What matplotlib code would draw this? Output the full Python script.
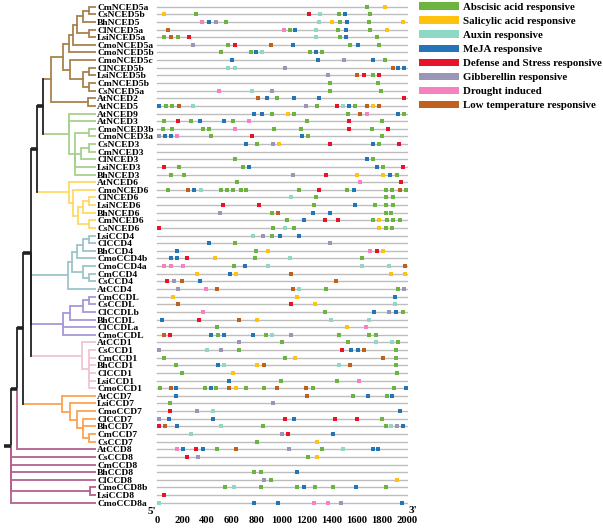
import matplotlib
matplotlib.use('Agg')
import matplotlib.pyplot as plt
import matplotlib.patches as mpatches

plt.rcParams['font.family'] = ['Liberation Serif', 'DejaVu Serif']
plt.rcParams['font.weight'] = 'bold'

genes = ['CmNCED5a', 'CsNCED5b', 'BhNCED5', 'ClNCED5a', 'LsiNCED5a', 'CmoNCED5a', 'CmoNCED5b',
         'CmoNCED5c', 'ClNCED5b', 'LsiNCED5b', 'CmNCED5b', 'CsNCED5a', 'AtNCED2', 'AtNCED5',
         'AtNCED9', 'AtNCED3', 'CmoNCED3b', 'CmoNCED3a', 'CsNCED3', 'CmNCED3', 'ClNCED3',
         'LsiNCED3', 'BhNCED3', 'AtNCED6', 'CmoNCED6', 'ClNCED6', 'LsiNCED6', 'BhNCED6',
         'CmNCED6', 'CsNCED6', 'LsiCCD4', 'ClCCD4', 'BhCCD4', 'CmoCCD4b', 'CmoCCD4a', 'CmCCD4',
         'CsCCD4', 'AtCCD4', 'CmCCDL', 'CsCCDL', 'ClCCDLb', 'BhCCDL', 'ClCCDLa', 'CmoCCDL',
         'AtCCD1', 'CsCCD1', 'CmCCD1', 'BhCCD1', 'ClCCD1', 'LsiCCD1', 'CmoCCD1', 'AtCCD7',
         'LsiCCD7', 'CmoCCD7', 'ClCCD7', 'BhCCD7', 'CmCCD7', 'CsCCD7', 'AtCCD8', 'CsCCD8',
         'CmCCD8', 'BhCCD8', 'ClCCD8', 'CmoCCD8b', 'LsiCCD8', 'CmoCCD8a']

element_names = ['Abscisic acid responsive', 'Salicylic acid responsive', 'Auxin responsive',
                 'MeJA responsive', 'Defense and Stress responsive', 'Gibberellin responsive',
                 'Drought induced', 'Low temperature responsive']
element_colors = ['#6DB33F', '#FFC20E', '#8ED8C6', '#2375B8', '#E8132B', '#9A96B6',
                  '#F681C0', '#C1601D']

# element positions (bp upstream, 0-2000) per gene
abscisic = {
    'CmNCED5a': [1680], 'CsNCED5b': [315, 1459, 1701], 'BhNCED5': [552, 1464, 1696],
    'ClNCED5a': [1061, 1451, 1707], 'LsiNCED5a': [53, 168, 1464, 1760],
    'CmoNCED5a': [571, 1547, 1776], 'CmoNCED5b': [515, 749, 1224, 1320], 'CmoNCED5c': [1821],
    'LsiNCED5b': [1725], 'CmNCED5b': [1387, 1768], 'CsNCED5a': [1387, 1792], 'AtNCED2': [957],
    'AtNCED5': [69, 117, 1277, 1584], 'AtNCED9': [920, 1096, 1528, 1979],
    'AtNCED3': [53, 272, 605, 1197, 1803], 'CmoNCED3b': [51, 123, 371, 413, 936, 1152, 1720],
    'CmoNCED3a': [435, 1211, 1803], 'CsNCED3': [797, 1776], 'ClNCED3': [624, 1728],
    'LsiNCED3': [173, 691, 1808], 'BhNCED3': [109, 219, 1920], 'AtNCED6': [643],
    'CmoNCED6': [85, 515, 563, 611, 669, 715, 1136, 1517, 1829, 1883, 1992],
    'ClNCED6': [1272, 1829, 1885], 'LsiNCED6': [1256, 1741, 1829, 1885],
    'BhNCED6': [923, 1829, 1875], 'CmNCED6': [1037, 1728, 1840, 1891, 1947],
    'CsNCED6': [928, 1093, 1829, 1883], 'LsiCCD4': [923], 'ClCCD4': [624], 'BhCCD4': [795],
    'CmoCCD4b': [787, 1643], 'CmoCCD4a': [613], 'AtCCD4': [1352, 1931],
    'ClCCDLb': [1341, 1971], 'ClCCDLa': [483], 'CmoCCDL': [488, 872, 1453, 1699, 1749],
    'AtCCD1': [997, 1531, 1928], 'CsCCD1': [656, 1915], 'CmCCD1': [53, 1021, 1915],
    'BhCCD1': [149, 1915], 'ClCCD1': [197, 1917], 'LsiCCD1': [995, 1443],
    'CmoCCD1': [27, 381, 475, 709, 856, 1245, 1899], 'AtCCD7': [1571, 1837], 'LsiCCD7': [107],
    'ClCCD7': [1800], 'BhCCD7': [851, 1829], 'CsCCD7': [803], 'AtCCD8': [483, 1320],
    'CsCCD8': [1205], 'BhCCD8': [779, 832], 'ClCCD8': [912],
    'CmoCCD8b': [547, 832, 1123, 1264, 1405, 1832],
}
salicylic = {
    'CmNCED5a': [1827], 'CsNCED5b': [53], 'BhNCED5': [1403, 1971], 'ClNCED5a': [1840],
    'AtNCED5': [1728], 'AtNCED9': [1045], 'CsNCED3': [973], 'BhNCED3': [1597, 1808],
    'CmNCED6': [1779], 'CsNCED6': [1779], 'BhCCD4': [885, 1808], 'CmoCCD4b': [467],
    'CmCCD4': [323, 635, 1869, 1981], 'CmCCDL': [125, 1120], 'CsCCDL': [1261],
    'BhCCDL': [803], 'ClCCDLa': [1517], 'CmCCD1': [1104], 'BhCCD1': [803], 'ClCCD1': [611],
    'CmoCCD1': [629], 'CsCCD7': [1283], 'CsCCD8': [1277], 'ClCCD8': [1923],
}
auxin = {
    'CsNCED5b': [1307], 'BhNCED5': [1293], 'ClNCED5a': [1272], 'LsiNCED5a': [1269],
    'CmoNCED5b': [837], 'ClNCED5b': [565, 627], 'CsNCED5a': [757], 'AtNCED5': [291, 1488],
    'CmoNCED6': [352], 'ClNCED6': [1075], 'CsNCED6': [1027], 'LsiCCD4': [765],
    'CmoCCD4b': [1067], 'CmoCCD4a': [885, 1640, 1856], 'AtCCD4': [1133], 'CsCCDL': [1907],
    'BhCCDL': [1389, 1699], 'CmoCCDL': [923], 'AtCCD1': [1755, 1877], 'CsCCD1': [400],
    'BhCCD1': [533, 1456], 'CmoCCD7': [445], 'BhCCD7': [512, 1875], 'CmCCD7': [275],
    'AtCCD8': [1491], 'CmoCCD8b': [619], 'CmoCCD8a': [16],
}
meja = {
    'CsNCED5b': [1507], 'BhNCED5': [419, 1523], 'ClNCED5a': [1107, 1509], 'LsiNCED5a': [1512],
    'CmoNCED5a': [1085, 1608], 'CmoNCED5b': [792, 1272], 'CmoNCED5c': [597, 1288, 1731],
    'ClNCED5b': [1931, 1976], 'AtNCED2': [883, 1099, 1299], 'AtNCED5': [16, 1536],
    'AtNCED9': [779, 837, 1931], 'AtNCED3': [347, 533], 'CmoNCED3a': [67, 115, 1157],
    'CsNCED3': [712, 1728], 'ClNCED3': [1677], 'LsiNCED3': [736, 1757], 'BhNCED3': [1867],
    'CmoNCED6': [296, 1576], 'LsiNCED6': [1584], 'BhNCED6': [1251, 1384], 'CmNCED6': [1173],
    'LsiCCD4': [987, 1136], 'ClCCD4': [413], 'BhCCD4': [160], 'CmoCCD4b': [109, 160],
    'CmoCCD4a': [701], 'CmCCD4': [584], 'CsCCD4': [344], 'CmCCDL': [1904],
    'ClCCDLb': [1733, 1909], 'BhCCDL': [37], 'CmoCCDL': [429, 533, 768],
    'CsCCD1': [1552, 1608], 'BhCCD1': [491], 'LsiCCD1': [576], 'CmoCCD1': [155, 429, 1989],
    'AtCCD7': [155, 1688, 1883], 'CmoCCD7': [1944], 'ClCCD7': [93, 451, 1093],
    'BhCCD7': [163, 1971], 'CmCCD7': [1411], 'AtCCD8': [205, 365, 1728, 1771],
    'BhCCD8': [1120], 'CmoCCD8b': [1173, 1589], 'CmoCCD8a': [779, 965, 1960],
}
defense = {
    'CsNCED5b': [1219], 'LsiNCED5a': [256], 'CmoNCED5a': [621], 'LsiNCED5b': [1659, 1779],
    'AtNCED2': [1979], 'AtNCED5': [1443], 'AtNCED3': [168, 1533], 'CmoNCED3b': [1533, 1848],
    'CmoNCED3a': [763], 'CsNCED3': [1384, 1939], 'LsiNCED3': [59, 1968], 'BhNCED3': [1355],
    'AtNCED6': [1955], 'CmoNCED6': [1293], 'LsiNCED6': [525, 816], 'CmNCED6': [1344, 1445],
    'CsNCED6': [16], 'BhCCD4': [1763], 'CmoCCD4b': [237], 'CsCCD4': [77], 'CsCCDL': [1075],
    'BhCCDL': [333], 'CmoCCDL': [101], 'CsCCD1': [1477], 'CmoCCD7': [107],
    'ClCCD7': [1024, 1421, 1597], 'BhCCD7': [16], 'CmCCD7': [1048], 'AtCCD8': [312],
    'CsCCD8': [237], 'LsiCCD8': [59],
}
gibberellin = {
    'BhNCED5': [469], 'CmoNCED5a': [285], 'CmoNCED5c': [1496], 'ClNCED5b': [1027],
    'LsiNCED5b': [1365], 'CsNCED5a': [920], 'AtNCED5': [1189], 'CmoNCED3a': [16],
    'CsNCED3': [925], 'BhNCED3': [1091], 'BhNCED6': [501], 'LsiCCD4': [851], 'ClCCD4': [1384],
    'CsCCD4': [139], 'AtCCD4': [165, 1979], 'ClCCDLb': [1853], 'CmoCCDL': [1069],
    'AtCCD1': [656], 'CsCCD1': [16, 509], 'LsiCCD7': [925], 'CmoCCD7': [323], 'ClCCD7': [16],
    'BhCCD7': [1920], 'CmCCD7': [1003], 'AtCCD8': [1059], 'CsCCD8': [325], 'ClCCD8': [859],
    'CmoCCD8a': [1475],
}
drought = {
    'BhNCED5': [357], 'ClNCED5a': [1013], 'CsNCED5a': [496], 'AtNCED9': [1677],
    'AtNCED3': [739], 'CmoNCED3b': [624], 'CmoNCED3a': [157], 'AtNCED6': [1627],
    'BhCCD4': [1707], 'CmoCCD4a': [53, 115, 208], 'AtCCD4': [389], 'ClCCDLb': [365],
    'ClCCDLa': [1675], 'LsiCCD1': [1616], 'AtCCD8': [157], 'CmoCCD8a': [1256, 1371],
}
low_temp = {
    'ClNCED5a': [88], 'LsiNCED5a': [115], 'CmoNCED5a': [915], 'ClNCED5b': [1885],
    'LsiNCED5b': [1597], 'AtNCED2': [811], 'AtNCED5': [173, 1683, 1779], 'AtNCED9': [1627],
    'CmoNCED6': [245, 1941], 'BhNCED6': [968], 'CmoCCD4a': [1981], 'CmCCD4': [1075],
    'CsCCD4': [197, 1429], 'AtCCD4': [480, 1085], 'CsCCDL': [171], 'BhCCDL': [659],
    'CmoCCDL': [53], 'CsCCD1': [1659], 'CmCCD1': [1808], 'BhCCD1': [859, 1547],
    'CmoCCD1': [112, 579, 957, 1192], 'AtCCD7': [1197], 'BhCCD7': [61], 'AtCCD8': [629],
}
element_sets = [abscisic, salicylic, auxin, meja, defense, gibberellin, drought, low_temp]

# ---- tree: node = (depth, children, colour, stem colour) ----
BROWN, GREEN, YELLOW, TEAL = '#A7834E', '#A9D18E', '#FFD966', '#9CC5CC'
PURPLE, PINK, ORANGE, MAGENTA, BLACK = '#A897DA', '#F1C6D8', '#FCA34F', '#B5608F', '#222222'


def N(x, kids, color=None, stem=None):
    return (x, kids, color, stem)


brown = N(50.7, [
    N(63.3, [
        N(69, [N(73, [N(77, [N(83, [N(89, ['CmNCED5a', 'CsNCED5b']), 'BhNCED5']),
                             N(89, ['ClNCED5a', 'LsiNCED5a'])]), 'CmoNCED5a']), 'CmoNCED5b']),
        N(70, ['CmoNCED5c', N(83, [N(89, ['ClNCED5b', 'LsiNCED5b']),
                                   N(89, ['CmNCED5b', 'CsNCED5a'])])]),
    ]),
    N(88, ['AtNCED2', 'AtNCED5']),
], BROWN)
green = N(69.3, ['AtNCED9', 'AtNCED3',
                 N(75, [N(89, ['CmoNCED3b', 'CmoNCED3a']),
                        N(81, [N(89, ['CsNCED3', 'CmNCED3']), 'ClNCED3']),
                        'LsiNCED3', 'BhNCED3'])], GREEN)
yellow = N(69.3, ['AtNCED6', N(73, ['CmoNCED6', N(78, [N(83, [N(89, ['ClNCED6', 'LsiNCED6']), 'BhNCED6']),
                                                     N(89, ['CmNCED6', 'CsNCED6'])])])], YELLOW)
teal = N(68, [N(72, [N(77, [N(83, [N(89, ['LsiCCD4', 'ClCCD4']), 'BhCCD4']), 'CmoCCD4b']),
                     N(83, ['CmoCCD4a', N(89, ['CmCCD4', 'CsCCD4'])])]), 'AtCCD4'], TEAL)
purple = N(62.7, [N(70, [N(83, [N(89, ['CmCCDL', 'CsCCDL']), 'ClCCDLb']), 'BhCCDL']),
                  'ClCCDLa', 'CmoCCDL'], PURPLE)
pink = N(81.7, ['AtCCD1', N(89, ['CsCCD1', 'CmCCD1', 'BhCCD1', 'ClCCD1', 'LsiCCD1', 'CmoCCD1'])], PINK)
orange = N(61.7, ['AtCCD7', N(70, ['LsiCCD7', N(77, ['CmoCCD7', N(83, ['ClCCD7', 'BhCCD7',
                                                                     N(89, ['CmCCD7', 'CsCCD7'])])])])], ORANGE)
node_a = N(43, [brown, green], BLACK, BLACK)
node_b = N(37, [node_a, yellow], BLACK, BLACK)
node_c = N(30.7, [node_b, teal, purple, pink], BLACK, BLACK)
node_d = N(23.3, [node_c, orange], BLACK, BLACK)
node_e = N(17, [node_d, 'AtCCD8'], MAGENTA, BLACK)
node_f = N(10.7, [node_e, 'CsCCD8', 'CmCCD8', 'BhCCD8', 'ClCCD8',
                  N(90, ['CmoCCD8b', 'LsiCCD8']), 'CmoCCD8a'], MAGENTA, BLACK)
root = N(4, [node_f], BLACK)

LEAF_X = 96
rows = {g: i for i, g in enumerate(genes)}


def draw_node(ax, n, inherited):
    x, kids, c, stem = n
    c = c or inherited
    ys = []
    for k in kids:
        if isinstance(k, str):
            ky, kx, kc, kstem = rows[k], LEAF_X, c, None
        else:
            ky = draw_node(ax, k, c)
            kx, kc, kstem = k[0], (k[2] or c), k[3]
        ax.plot([x, kx], [ky, ky], color=kstem or kc, lw=2.6 if kstem else 1.3,
                solid_capstyle='butt')
        ys.append((ky, kstem or c))
    y = (ys[0][0] + ys[-1][0]) / 2
    for ky, vc in ys:
        ax.plot([x, x], [y, ky], color=vc, lw=1.3, solid_capstyle='projecting')
    return y


W, H = 603, 530
fig = plt.figure(figsize=(W / 100, H / 100), dpi=100)

row0, dy = 6.7, 7.63
ybot = (512 - row0) / dy
ytop = -row0 / dy
ax = fig.add_axes([155 / W, (H - 512) / H, 253 / W, 512 / H])
tax = fig.add_axes([0, (H - 512) / H, 155 / W, 512 / H])

for a in (ax, tax):
    a.set_ylim(ybot, ytop)
    a.set_facecolor('none')
    for s in a.spines.values():
        s.set_visible(False)

# promoter lines and elements
for i, g in enumerate(genes):
    ax.plot([0, 2000], [i, i], color='#BDBDBD', lw=1.0, zorder=1)

for name, col, sites in zip(element_names, element_colors, element_sets):
    xs, ys = [], []
    for g, pos in sites.items():
        xs += pos
        ys += [rows[g]] * len(pos)
    ax.scatter(xs, ys, marker='s', s=11.5, color=col, linewidths=0, zorder=3)

ax.set_xlim(-16, 2008)
ax.set_xticks(range(0, 2001, 200))
ax.set_yticks([])
ax.tick_params(axis='x', length=0, pad=3, labelsize=7.6)
for lab in ax.get_xticklabels():
    lab.set_fontweight('bold')
ax.text(-40, 66.1, "5'", ha='center', va='center', fontsize=8, fontweight='bold', clip_on=False)
ax.text(2050, 66.0, "3'", ha='center', va='center', fontsize=8, fontweight='bold', clip_on=False)

# tree
tax.set_xlim(0, 155)
tax.set_xticks([])
tax.set_yticks([])
draw_node(tax, root, BLACK)
for g, i in rows.items():
    tax.text(97, i, g, ha='left', va='center_baseline', fontsize=6.8, fontweight='bold')

handles = [mpatches.Patch(facecolor=c, edgecolor='none', label=n)
           for n, c in zip(element_names, element_colors)]
fig.legend(handles=handles, loc='upper left', bbox_to_anchor=(419 / W, 1 - 2.3 / H),
           frameon=False, handlelength=3.7, handleheight=0.68,
           handletextpad=0.37, labelspacing=0.42, borderpad=0, borderaxespad=0,
           prop={'weight': 'bold', 'size': 7.8})

fig.savefig('out.png', dpi=100)
